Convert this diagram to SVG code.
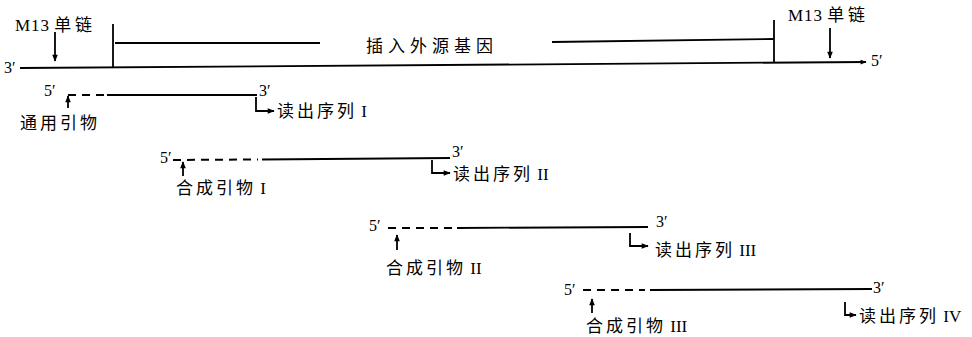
<svg xmlns="http://www.w3.org/2000/svg" width="972" height="337" viewBox="0 0 972 337">
<defs>
<style>
.ln{stroke:#000;stroke-width:1.8;fill:none}
.ds{stroke:#000;stroke-width:2;fill:none;stroke-dasharray:8 6}
.t{font-family:"Liberation Serif","Noto Sans CJK SC",serif;font-size:17px;fill:#000}
.c{letter-spacing:3px}
.p{font-family:"Liberation Serif",serif;font-size:16px;fill:#000}
</style>
<marker id="ah" viewBox="0 0 10 10" refX="9" refY="5" markerWidth="8" markerHeight="7" orient="auto" markerUnits="userSpaceOnUse">
<path d="M0,1 L10,5 L0,9 Z" fill="#000"/>
</marker>
<marker id="ahs" viewBox="0 0 10 10" refX="9" refY="5" markerWidth="8" markerHeight="6" orient="auto" markerUnits="userSpaceOnUse">
<path d="M0,1 L10,5 L0,9 Z" fill="#000"/>
</marker>
</defs>
<rect width="972" height="337" fill="#fff"/>

<g id="connectors">
<!-- main M13 strand -->
<path class="ln" d="M20,68 L866,62" marker-end="url(#ahs)"/>
<path class="ln" d="M113,24 L113,68"/>
<path class="ln" d="M115,43 L320,43"/>
<path class="ln" d="M552,42 L774,39"/>
<path class="ln" d="M774,20 L774,62"/>
<path class="ln" d="M55,32 L55,61" marker-end="url(#ah)"/>
<path class="ln" d="M830,28 L830,58" marker-end="url(#ah)"/>
<!-- row 1 -->
<path class="ds" d="M68,95 L104,95"/>
<path class="ln" d="M107,95 L257,95"/>
<path class="ln" d="M68,108 L68,96" marker-end="url(#ah)"/>
<path class="ln" d="M256,97 L256,111 L274,111" marker-end="url(#ah)"/>
<!-- row 2 -->
<path class="ds" d="M173,160 L258,159.5"/>
<path class="ln" d="M262,159.5 L450,158"/>
<path class="ln" d="M183,176 L183,162" marker-end="url(#ah)"/>
<path class="ln" d="M432,160 L432,173 L450,173" marker-end="url(#ah)"/>
<!-- row 3 -->
<path class="ds" d="M388,228 L453,228"/>
<path class="ln" d="M457,228 L648,227"/>
<path class="ln" d="M397,250 L397,235" marker-end="url(#ah)"/>
<path class="ln" d="M630,233 L630,246 L648,246" marker-end="url(#ah)"/>
<!-- row 4 -->
<path class="ds" d="M583,290 L645,290"/>
<path class="ln" d="M650,290 L872,289"/>
<path class="ln" d="M592,313 L592,299" marker-end="url(#ah)"/>
<path class="ln" d="M845,302 L845,315 L856,315" marker-end="url(#ah)"/>
</g>

<g id="top-labels">
<text class="t" x="15" y="31" letter-spacing="1">M13<tspan dx="4" letter-spacing="4">单链</tspan></text>
<text class="p" x="4" y="73">3′</text>
<text class="t" x="366" y="52" font-size="18" letter-spacing="5">插入外源基因</text>
<text class="t" x="788" y="21" letter-spacing="1">M13<tspan dx="4" letter-spacing="4">单链</tspan></text>
<text class="p" x="871" y="66">5′</text>
</g>

<g id="row1">
<text class="p" x="44" y="96">5′</text>
<text class="p" x="259" y="96">3′</text>
<text class="t c" x="20" y="129" letter-spacing="5">通用引物</text>
<text class="t" x="277" y="117"><tspan class="c">读出序列</tspan> I</text>
</g>

<g id="row2">
<text class="p" x="160" y="163">5′</text>
<text class="p" x="452" y="157">3′</text>
<text class="t" x="176" y="194"><tspan class="c">合成引物</tspan> I</text>
<text class="t" x="453" y="180"><tspan class="c">读出序列</tspan> II</text>
</g>

<g id="row3">
<text class="p" x="369" y="231">5′</text>
<text class="p" x="656" y="227">3′</text>
<text class="t" x="386" y="274"><tspan class="c">合成引物</tspan> II</text>
<text class="t" x="655" y="256"><tspan class="c">读出序列</tspan> III</text>
</g>

<g id="row4">
<text class="p" x="564" y="295">5′</text>
<text class="p" x="873" y="293">3′</text>
<text class="t" x="586" y="332"><tspan class="c">合成引物</tspan> III</text>
<text class="t" x="859" y="322"><tspan class="c">读出序列</tspan> IV</text>
</g>
</svg>
